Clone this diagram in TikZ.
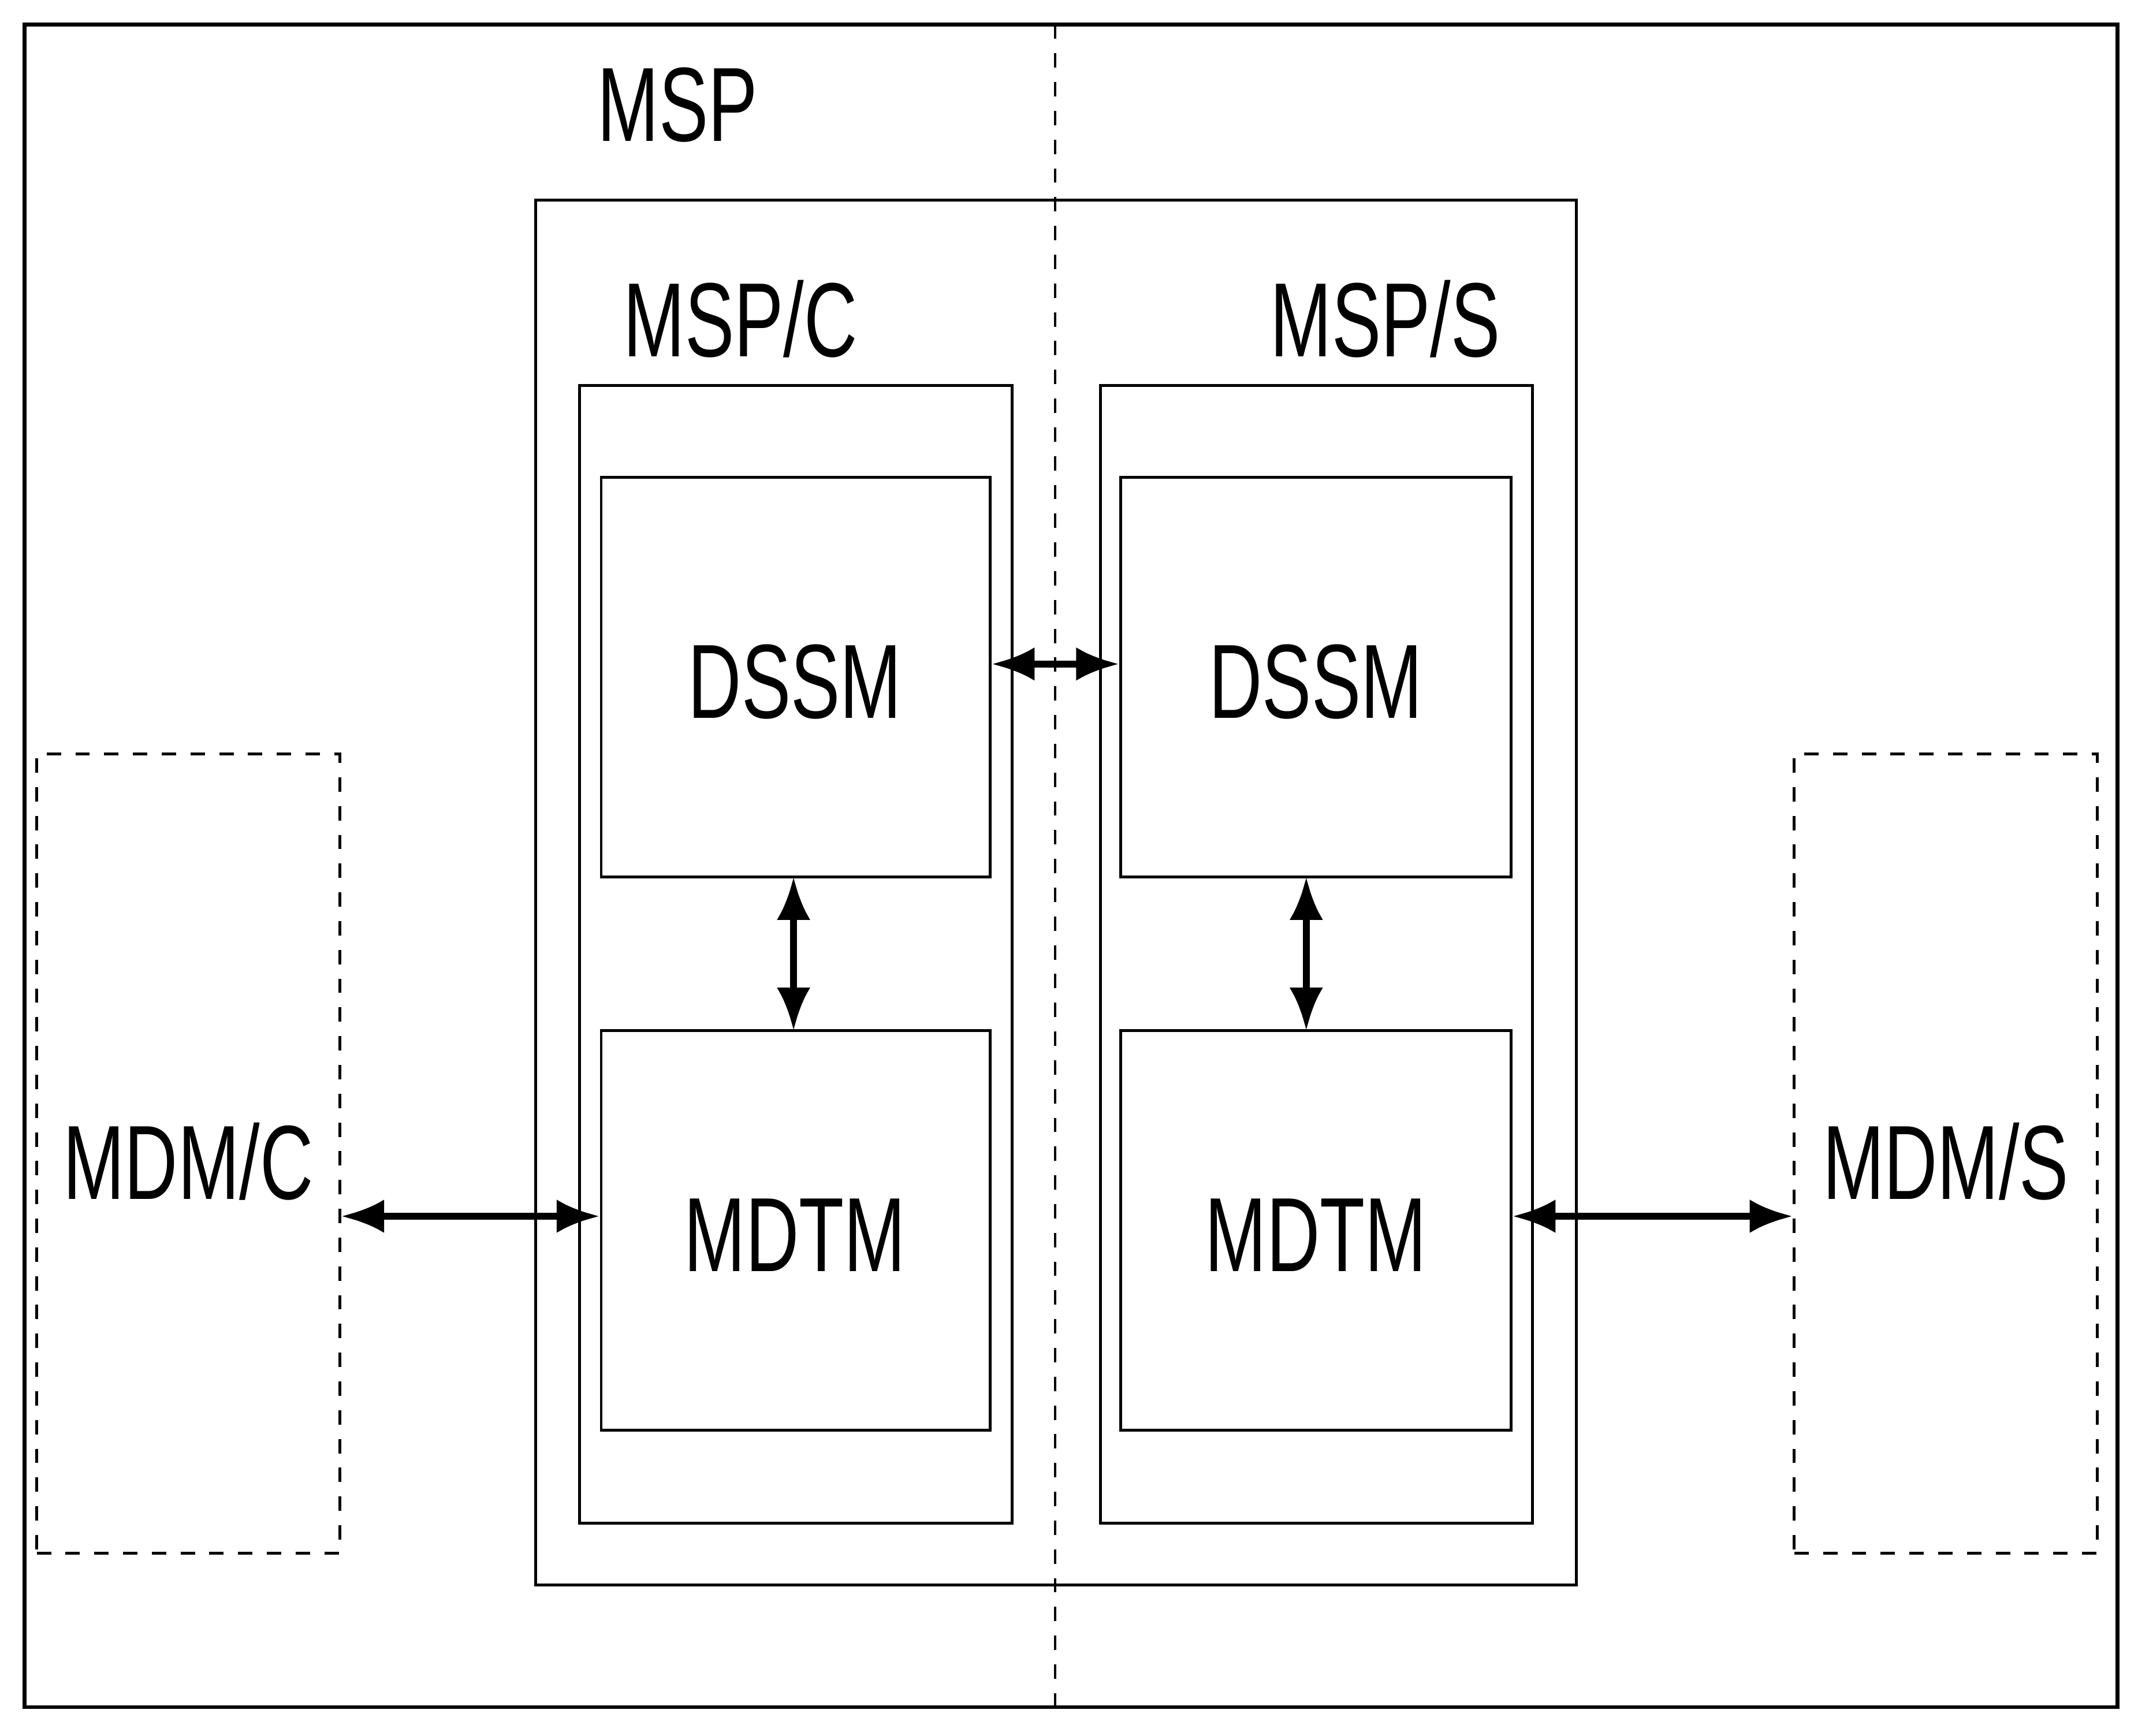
\documentclass[tikz,border=0pt]{standalone}
\usepackage{fontspec}
\setmainfont{Liberation Sans}
\newfontfamily\cond{Liberation Sans}[FakeStretch=0.7]
\usetikzlibrary{arrows.meta}
\begin{document}
\begin{tikzpicture}[x=0.01cm,y=-0.01cm,
  box/.style={draw,line width=0.6pt,inner sep=0pt},
  dbox/.style={draw,dashed,line width=0.6pt,inner sep=0pt},
  lab/.style={font=\cond\fontsize{22}{24}\selectfont,inner sep=0pt},
  arr/.style={{Latex[length=9pt,width=7pt]}-{Latex[length=9pt,width=7pt]},line width=1.4pt}]
\useasboundingbox (0,0) rectangle (1568,1273);
\draw[line width=0.8pt] (18,18) rectangle (1553,1252);
\coordinate (vt) at (774,18); \coordinate (vb) at (774,1252);
\draw[dashed,line width=0.5pt] (vt) -- (vb);
\node[box,minimum width=7.63cm,minimum height=10.15cm] (msp) at (774.5,654.5) {};
\node[box,minimum width=3.17cm,minimum height=8.34cm] (mspc) at (583.5,700) {};
\node[box,minimum width=3.17cm,minimum height=8.34cm] (msps) at (965.5,700) {};
\node[box,minimum width=2.85cm,minimum height=2.93cm] (d1) at (583.5,496.5) {};
\node[box,minimum width=2.86cm,minimum height=2.93cm] (d2) at (965,496.5) {};
\node[box,minimum width=2.85cm,minimum height=2.93cm] (m1) at (583.5,902.5) {};
\node[box,minimum width=2.86cm,minimum height=2.93cm] (m2) at (965,902.5) {};
\node[dbox,minimum width=2.22cm,minimum height=5.86cm] (mc) at (138,846) {};
\node[dbox,minimum width=2.22cm,minimum height=5.86cm] (ms) at (1427,846) {};
\node[lab] at (497,77) {MSP};
\node[lab] at (543,234) {MSP/C};
\node[lab] at (1016,234) {MSP/S};
\node[lab] at (583,500) {DSSM};
\node[lab] at (965,500) {DSSM};
\node[lab] at (583,906) {MDTM};
\node[lab] at (965,906) {MDTM};
\node[lab] at (138,852) {MDM/C};
\node[lab] at (1427,852) {MDM/S};
\draw[arr] (d1.east |- 0,487) -- (d2.west |- 0,487);
\draw[arr] (582,643) -- (582,756);
\draw[arr] (958,643) -- (958,756);
\draw[arr] (mc.east |- 0,892) -- (m1.west |- 0,892);
\draw[arr] (m2.east |- 0,892) -- (ms.west |- 0,892);
\end{tikzpicture}
\end{document}
